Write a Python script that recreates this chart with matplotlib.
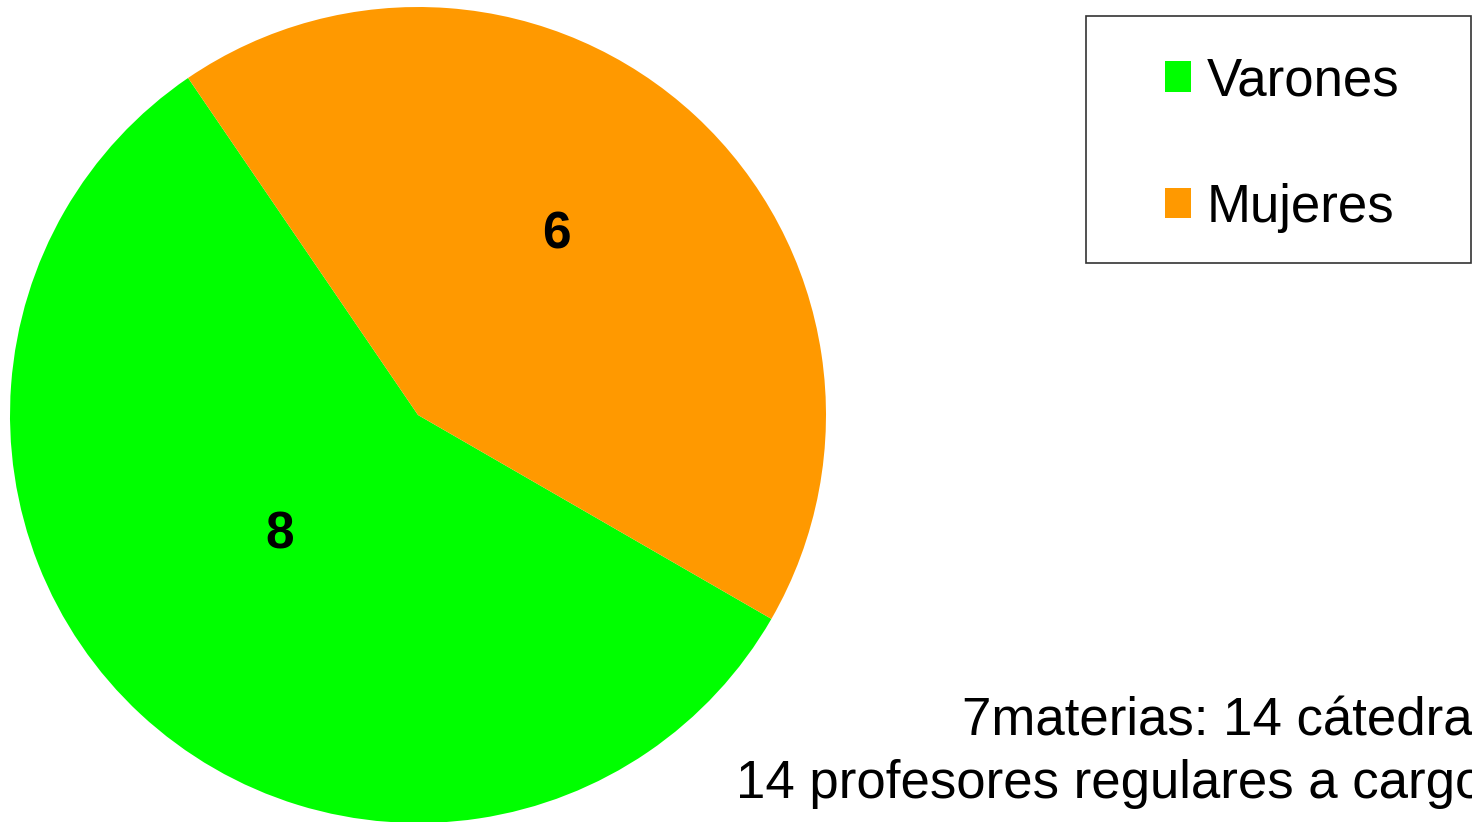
import matplotlib
matplotlib.use("Agg")
import matplotlib.pyplot as plt
from matplotlib.patches import Rectangle, Patch
from matplotlib.transforms import ScaledTranslation

plt.rcParams['font.family'] = ['Liberation Sans', 'DejaVu Sans']

labels = ['Varones', 'Mujeres']
counts = [8, 6]
colors = ['#00ff00', '#ff9900']
note_lines = ['7materias: 14 cátedras', '14 profesores regulares a cargo']

W, H = 1472, 822
fig = plt.figure(figsize=(W / 100, H / 100), dpi=100)

# pie: center ~(418, 415) px, radius ~408 px
cx, cy, r = 418, 415, 408
ax = fig.add_axes([(cx - r) / W, (H - cy - r) / H, 2 * r / W, 2 * r / H])
wedges, texts, autotexts = ax.pie(
    counts, colors=colors, startangle=124.3, counterclock=True,
    autopct=lambda p: '%d' % round(p * sum(counts) / 100),
    pctdistance=0.5, wedgeprops=dict(linewidth=0),
    textprops=dict(fontsize=37, fontweight='bold', color='black'))
# labels sit a little higher than the wedge midpoints in the original
for t in autotexts:
    t.set_transform(ax.transData + ScaledTranslation(0, 0.3, fig.dpi_scale_trans))
ax.set_aspect('equal')
ax.set_xlim(-1, 1)
ax.set_ylim(-1, 1)

# legend
handles = [Patch(facecolor=c, edgecolor='none', label=l) for c, l in zip(colors, labels)]
fig.legend(handles=handles, loc='center', bbox_to_anchor=(1282 / W, (H - 144.5) / H),
           frameon=False, fontsize=38, handlelength=0.5, handleheight=0.5,
           handletextpad=0.3, labelspacing=1.45, borderpad=0)
fig.add_artist(Rectangle((1086 / W, (H - 263) / H), 385 / W, 247 / H,
                         transform=fig.transFigure, fill=False,
                         edgecolor='#333333', linewidth=1.2))

# note text, clipped at the right edge as in the original
fig.text(1499 / W, (H - 735) / H, note_lines[0], ha='right', va='baseline', fontsize=38)
fig.text(1484 / W, (H - 798) / H, note_lines[1], ha='right', va='baseline', fontsize=38)

fig.savefig('out.png', dpi=100)
